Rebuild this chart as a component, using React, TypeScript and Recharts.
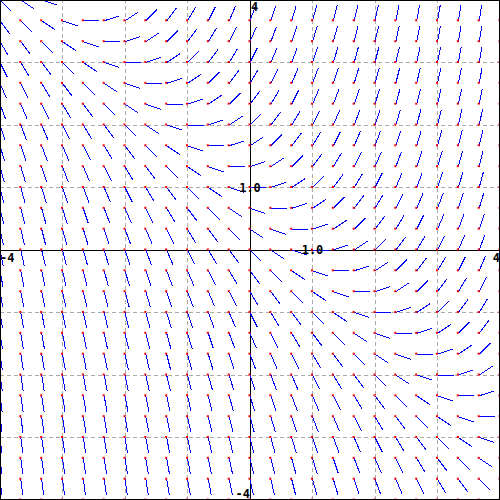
import React from 'react';
import { ScatterChart, Scatter, XAxis, YAxis, ReferenceLine } from 'recharts';

// grid sample positions (both axes)
const xs = [-4, -3.667, -3.333, -3, -2.667, -2.333, -2, -1.667, -1.333, -1, -0.667, -0.333, 0, 0.333, 0.667, 1, 1.333, 1.667, 2, 2.333, 2.667, 3, 3.333, 3.667, 4];
const ys = [-4, -3.667, -3.333, -3, -2.667, -2.333, -2, -1.667, -1.333, -1, -0.667, -0.333, 0, 0.333, 0.667, 1, 1.333, 1.667, 2, 2.333, 2.667, 3, 3.333, 3.667, 4];
// slope read along each diagonal (index = column + row from bottom-left)
const slopes = [-9, -8.667, -8.333, -8, -7.667, -7.333, -7, -6.667, -6.333, -6, -5.667, -5.333, -5, -4.667, -4.333, -4, -3.667, -3.333, -3, -2.667, -2.333, -2, -1.667, -1.333, -1, -0.667, -0.333, 0, 0.333, 0.667, 1, 1.333, 1.667, 2, 2.333, 2.667, 3, 3.333, 3.667, 4, 4.333, 4.667, 5, 5.333, 5.667, 6, 6.333, 6.667, 7];
const gridValues = [-3, -2, -1, 1, 2, 3];
const labelTexts = ['4', '-4', '-4', '4', '1.0', '1.0'];
const labelX = [0, -4, 0, 4, 0, 1];
const labelY = [4, 0, -4, 0, 1, 0];

const points = xs.flatMap((x, i) => ys.map((y, j) => ({ x, y, m: slopes[i + j] })));
const labels = labelTexts.map((text, i) => ({ x: labelX[i], y: labelY[i], text }));

// rendering offsets for each label: [dx, dy, anchor]
const labelOffsets: [number, number, string][] = [
  [1, 11, 'start'],
  [0, 12, 'start'],
  [0, -2, 'end'],
  [0, 12, 'end'],
  [0, 4, 'middle'],
  [0, 4, 'middle'],
];

const SEG = 16;

function Segment(props: any) {
  const { cx, cy, payload } = props;
  if (cx == null || cy == null) return null;
  const m = payload.m;
  const n = Math.sqrt(1 + m * m);
  const dx = SEG / n;
  const dy = (SEG * m) / n;
  return (
    <g>
      <line x1={cx} y1={cy} x2={cx + dx} y2={cy - dy} stroke="#0000ff" strokeWidth={1} shapeRendering="crispEdges" />
      <rect x={cx - 1.5} y={cy - 1.5} width={2} height={2} fill="#ff0000" />
    </g>
  );
}

function Label(props: any) {
  const { cx, cy, index } = props;
  if (cx == null || cy == null) return null;
  const [dx, dy, anchor] = labelOffsets[index] || [0, 0, 'start'];
  return (
    <text
      x={cx + dx}
      y={cy + dy}
      textAnchor={anchor as any}
      fontFamily="DejaVu Sans Mono"
      fontWeight="bold"
      fontSize={12}
      fill="#000"
    >
      {props.payload.text}
    </text>
  );
}

export default function App() {
  return (
    <div style={{ position: 'absolute', left: 0, top: 0, width: 500, height: 500, background: '#fff' }}>
      <ScatterChart width={500} height={500} margin={{ top: 0, right: 0, bottom: 0, left: 0 }}>
        <XAxis type="number" dataKey="x" domain={[-4, 4]} hide allowDataOverflow />
        <YAxis type="number" dataKey="y" domain={[-4, 4]} hide allowDataOverflow />
        {gridValues.map((v) => (
          <ReferenceLine key={'gx' + v} x={v} stroke="#aaaaaa" strokeDasharray="4 3" shapeRendering="crispEdges" />
        ))}
        {gridValues.map((v) => (
          <ReferenceLine key={'gy' + v} y={v} stroke="#aaaaaa" strokeDasharray="4 3" shapeRendering="crispEdges" />
        ))}
        <ReferenceLine x={0} stroke="#000" strokeWidth={1} shapeRendering="crispEdges" />
        <ReferenceLine y={0} stroke="#000" strokeWidth={1} shapeRendering="crispEdges" />
        <Scatter data={points} shape={<Segment />} isAnimationActive={false} />
        <Scatter data={labels} shape={<Label />} isAnimationActive={false} />
      </ScatterChart>
      <div
        style={{
          position: 'absolute',
          left: 0,
          top: 0,
          width: 500,
          height: 500,
          boxSizing: 'border-box',
          border: '1px solid #000',
          pointerEvents: 'none',
        }}
      />
    </div>
  );
}
